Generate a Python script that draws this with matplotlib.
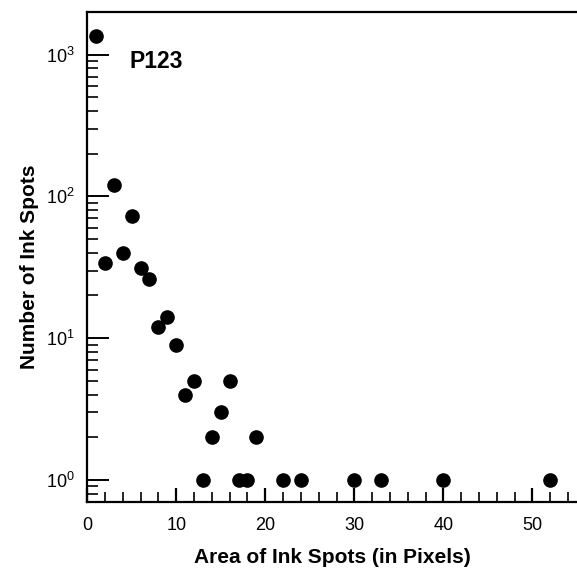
import matplotlib
matplotlib.use("Agg")
import matplotlib.pyplot as plt
from matplotlib.ticker import LogLocator, MultipleLocator, NullFormatter

plt.rcParams['font.family'] = ['Liberation Sans', 'DejaVu Sans']
plt.rcParams['mathtext.fontset'] = 'custom'
plt.rcParams['mathtext.rm'] = 'Liberation Sans'
plt.rcParams['mathtext.it'] = 'Liberation Sans:italic'
plt.rcParams['mathtext.bf'] = 'Liberation Sans:bold'

# ink spot size distribution
area = [1, 2, 3, 4, 5, 6, 7, 8, 9, 10, 11, 12, 13, 14, 15, 16, 17, 18, 19,
        22, 24, 30, 33, 40, 52]
count = [1350, 34, 120, 40, 73, 31, 26, 12, 14, 9, 4, 5, 1, 2, 3, 5, 1, 1, 2,
         1, 1, 1, 1, 1, 1]

fig = plt.figure(figsize=(5.77, 5.69), dpi=100)
ax = fig.add_axes([0.151, 0.118, 0.849, 0.861])

ax.plot(area, count, 'o', color='black', markersize=9.5, clip_on=False)
ax.set_yscale('log')
ax.set_xlim(0, 55)
ax.set_ylim(0.7, 2000)

# axis frame: right side cut off
ax.spines['right'].set_visible(False)
for s in ['left', 'bottom', 'top']:
    ax.spines[s].set_linewidth(1.6)

ax.xaxis.set_major_locator(MultipleLocator(10))
ax.xaxis.set_minor_locator(MultipleLocator(2))
ax.yaxis.set_major_locator(LogLocator(base=10, numticks=10))
ax.yaxis.set_minor_locator(LogLocator(base=10, subs=range(2, 10), numticks=10))
ax.yaxis.set_minor_formatter(NullFormatter())

ax.tick_params(which='both', direction='in', top=False, right=False)
ax.tick_params(axis='y', which='major', length=16, width=1.4, labelsize=13, pad=9)
ax.tick_params(axis='y', which='minor', length=8, width=1.2)
ax.tick_params(axis='x', which='major', length=10, width=1.6, labelsize=13, pad=11)
ax.tick_params(axis='x', which='minor', length=7, width=1.2)

ax.set_xlabel('Area of Ink Spots (in Pixels)', fontsize=15, fontweight='bold', labelpad=10)
ax.set_ylabel('Number of Ink Spots', fontsize=15, fontweight='bold', labelpad=5)
ax.yaxis.label.set_y(0.48)

ax.text(4.8, 900, 'P123', fontsize=16.5, fontweight='bold', va='center')

fig.savefig('out.png', dpi=100)
